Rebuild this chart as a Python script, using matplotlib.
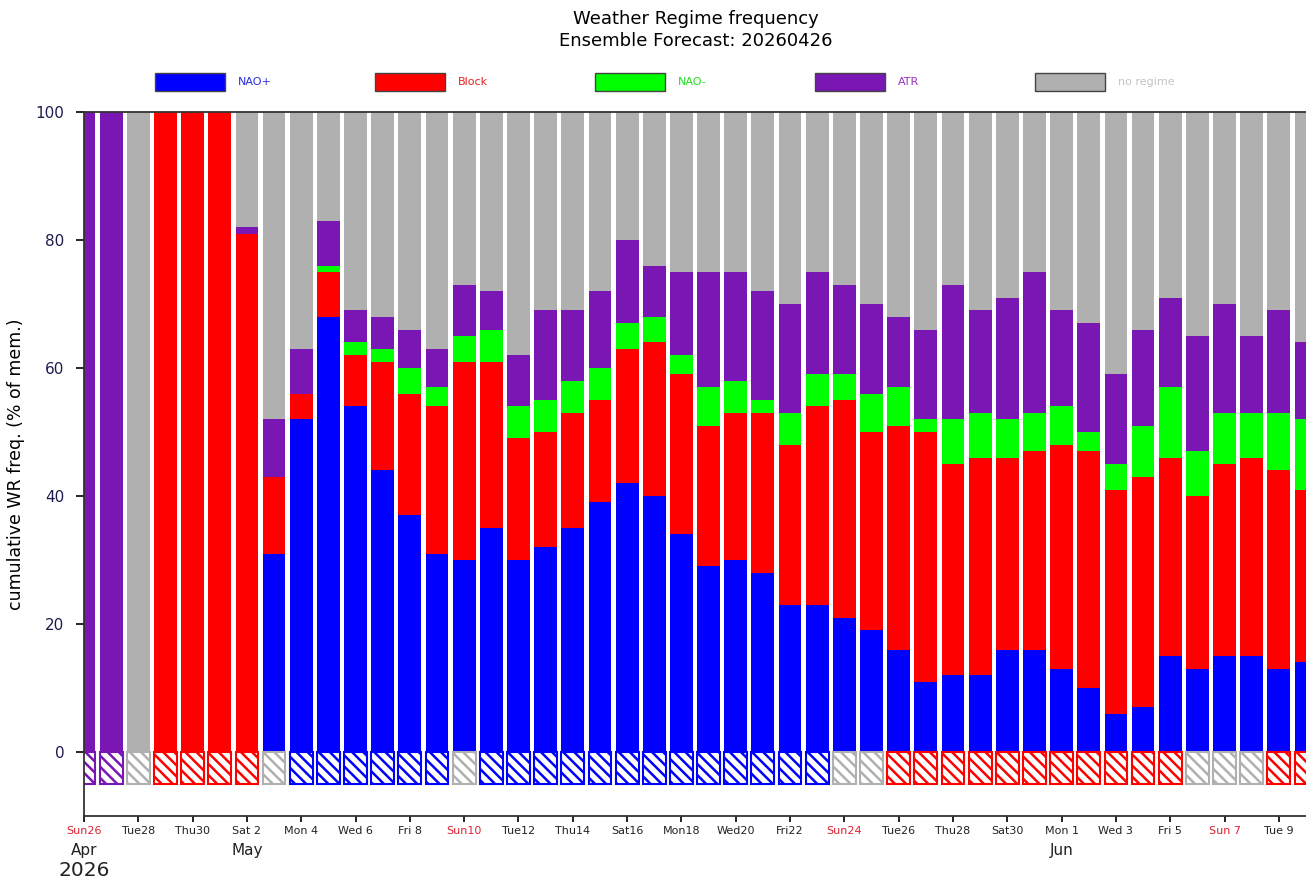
import numpy as np
import pandas as pd
import matplotlib
matplotlib.use("Agg")
import matplotlib.pyplot as plt
from matplotlib.patches import Rectangle

# daily ensemble frequencies (% of members), forecast from 2026-04-26
days = pd.date_range("2026-04-26", "2026-06-10", freq="D")
nao_plus = [0, 0, 0, 0, 0, 0, 0, 31, 52, 68, 54, 44, 37, 31, 30, 35, 30, 32, 35, 39, 42, 40, 34,
            29, 30, 28, 23, 23, 21, 19, 16, 11, 12, 12, 16, 16, 13, 10, 6, 7, 15, 13, 15, 15, 13, 14]
block = [0, 0, 0, 100, 100, 100, 81, 12, 4, 7, 8, 17, 19, 23, 31, 26, 19, 18, 18, 16, 21, 24, 25,
         22, 23, 25, 25, 31, 34, 31, 35, 39, 33, 34, 30, 31, 35, 37, 35, 36, 31, 27, 30, 31, 31, 27]
nao_minus = [0, 0, 0, 0, 0, 0, 0, 0, 0, 1, 2, 2, 4, 3, 4, 5, 5, 5, 5, 5, 4, 4, 3,
             6, 5, 2, 5, 5, 4, 6, 6, 2, 7, 7, 6, 6, 6, 3, 4, 8, 11, 7, 8, 7, 9, 11]
atr = [100, 100, 0, 0, 0, 0, 1, 9, 7, 7, 5, 5, 6, 6, 8, 6, 8, 14, 11, 12, 13, 8, 13,
       18, 17, 17, 17, 16, 14, 14, 11, 14, 21, 16, 19, 22, 15, 17, 14, 15, 14, 18, 17, 12, 16, 12]
# dominant regime per day
dominant = (["ATR"] * 2 + ["no regime"] + ["Block"] * 4 + ["no regime"] + ["NAO+"] * 6
            + ["no regime"] + ["NAO+"] * 13 + ["no regime"] * 2 + ["Block"] * 11
            + ["no regime"] * 3 + ["Block"] * 2)

regimes = ["NAO+", "Block", "NAO-", "ATR", "no regime"]
colors = {"NAO+": "#0000ff", "Block": "#ff0000", "NAO-": "#00ff00",
          "ATR": "#7a16b4", "no regime": "#b0b0b0"}
label_colors = {"NAO+": "#2a2ae0", "Block": "#e82020", "NAO-": "#22dd22",
                "ATR": "#9a30c8", "no regime": "#c4c4c4"}

plt.rcParams["hatch.linewidth"] = 1.8

fig = plt.figure(figsize=(13.06, 8.82), dpi=100)
ax = fig.add_axes([84 / 1306, 1 - 816 / 882, 1 - 84 / 1306, 704 / 882])

freqs = [np.array(nao_plus), np.array(block), np.array(nao_minus), np.array(atr)]
rest = 100 - sum(freqs)
width = 0.84
bottom = np.zeros(len(days))
for name, vals in zip(regimes, freqs + [rest]):
    ax.bar(days, vals, width=width, bottom=bottom, color=colors[name], linewidth=0)
    bottom = bottom + vals

# hatched boxes below zero mark the dominant regime
for d, reg in zip(days, dominant):
    ax.bar(d, 5, width=width, bottom=-5, facecolor="white", edgecolor=colors[reg],
           hatch="\\\\\\", linewidth=1.5)

ax.set_xlim(days[0], days[-1])
ax.set_ylim(-10, 100)
ax.set_yticks(range(0, 101, 20))
ax.tick_params(axis="y", length=6, width=1.2, pad=8, labelsize=11, labelcolor="#1c1c50")
ax.tick_params(axis="x", length=4, width=1.2, pad=3, labelsize=8)
for s in ax.spines.values():
    s.set_linewidth(1.3)
    s.set_color("#333333")
ax.spines["right"].set_visible(False)

ticks = days[:-1:2]
ax.set_xticks(ticks)
ax.set_xticklabels([f"{d:%a}{d.day:2d}" for d in ticks])
for lab, d in zip(ax.get_xticklabels(), ticks):
    lab.set_color("#e02030" if d.dayofweek == 6 else "#222222")

# month names under the first labelled day of each month
seen = set()
for d in ticks:
    if d.month not in seen:
        seen.add(d.month)
        ax.annotate(f"{d:%b}", xy=(d, 0), xycoords=("data", "axes fraction"),
                    xytext=(0, -25), textcoords="offset points", ha="center", va="center",
                    fontsize=11, color="#222222")
ax.annotate("2026", xy=(ticks[0], 0), xycoords=("data", "axes fraction"),
            xytext=(0, -39), textcoords="offset points", ha="center", va="center",
            fontsize=14.5, color="#222222")

ax.set_ylabel("cumulative WR freq. (% of mem.)", fontsize=12.5, labelpad=8)

fig.text(0.5325, 1 - 30 / 882, "Weather Regime frequency\nEnsemble Forecast: 20260426",
         ha="center", va="center", fontsize=13, linespacing=1.3)

# legend row above the axes
for i, reg in enumerate(regimes):
    x0 = (155 + 220 * i) / 1306
    fig.add_artist(Rectangle((x0, 1 - 91 / 882), 70 / 1306, 18 / 882, transform=fig.transFigure,
                             facecolor=colors[reg], edgecolor="#444444", linewidth=1))
    fig.text(x0 + 83 / 1306, 1 - 82 / 882, reg, ha="left", va="center", fontsize=8,
             color=label_colors[reg])

fig.savefig("out.png", dpi=100)
